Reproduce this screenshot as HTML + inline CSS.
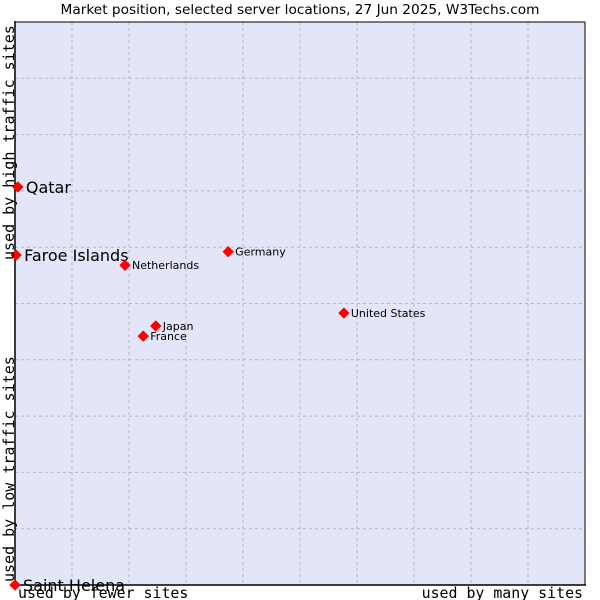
<!DOCTYPE html>
<html><head><meta charset="utf-8"><style>
body{margin:0;background:#fff;width:600px;height:600px;overflow:hidden}
svg{display:block}
</style></head><body>
<svg id="chart" width="600" height="600" font-family="'DejaVu Sans','Liberation Sans',sans-serif">
<text x="300" y="14" text-anchor="middle" font-size="13.7" fill="#000">Market position, selected server locations, 27 Jun 2025, W3Techs.com</text>
<rect x="15" y="22" width="570" height="563" fill="#e3e5f8"/>
<g id="grid"></g>
<line x1="15" y1="21" x2="15" y2="585" stroke="#000" stroke-width="1.5"/>
<line x1="15" y1="585" x2="586" y2="585" stroke="#000" stroke-width="1.5"/>
<line x1="15" y1="22" x2="585" y2="22" stroke="#000" stroke-width="1"/>
<line x1="585" y1="22" x2="585" y2="585" stroke="#000" stroke-width="1"/>
<g id="points"></g>
<text x="18" y="598" font-family="'DejaVu Sans Mono','Liberation Mono',monospace" font-size="14.9">used by fewer sites</text>
<text x="583" y="598" text-anchor="end" font-family="'DejaVu Sans Mono','Liberation Mono',monospace" font-size="14.9">used by many sites</text>
<text transform="translate(14,582) rotate(-90)" font-family="'DejaVu Sans Mono','Liberation Mono',monospace" font-size="15">used by low traffic sites</text>
<text transform="translate(14,260) rotate(-90)" font-family="'DejaVu Sans Mono','Liberation Mono',monospace" font-size="15">used by high traffic sites</text>
</svg>
<script>
const countries=["Qatar","Faroe Islands","Saint Helena","Netherlands","Germany","United States","Japan","France"];
const xValues=[0.5,0.2,0,19.3,37.4,57.7,24.7,22.5];
const yValues=[70.7,58.6,0,56.8,59.2,48.3,46.0,44.2];
const bigLabel=[true,true,true,false,false,false,false,false];
const NS="http://www.w3.org/2000/svg";
const X0=15,X1=585,Y0=585,Y1=22;
function sx(v){return X0+(X1-X0)*v/100;}
function sy(v){return Y0-(Y0-Y1)*v/100;}
const grid=document.getElementById('grid');
for(let i=1;i<10;i++){
  const v=document.createElementNS(NS,'line');
  v.setAttribute('x1',sx(i*10));v.setAttribute('x2',sx(i*10));v.setAttribute('y1',Y1);v.setAttribute('y2',Y0);
  v.setAttribute('stroke','#b8b8b8');v.setAttribute('stroke-dasharray','3,3');
  
  
  grid.appendChild(v);
  const h=document.createElementNS(NS,'line');
  h.setAttribute('y1',sy(i*10));h.setAttribute('y2',sy(i*10));h.setAttribute('x1',X0);h.setAttribute('x2',X1);
  h.setAttribute('stroke','#b8b8b8');h.setAttribute('stroke-dasharray','3,3');
  
  
  grid.appendChild(h);
}
const pts=document.getElementById('points');
countries.forEach((c,i)=>{
  const x=sx(xValues[i]),y=sy(yValues[i]);
  const d=document.createElementNS(NS,'path');
  d.setAttribute('d',`M${x} ${y-5}L${x+5} ${y}L${x} ${y+5}L${x-5} ${y}Z`);
  d.setAttribute('fill','#f00');
  d.setAttribute('stroke','#f00');
  d.setAttribute('stroke-width','1');
  d.setAttribute('stroke-linejoin','round');
  
  
  pts.appendChild(d);
  const t=document.createElementNS(NS,'text');
  t.setAttribute('x',x+(bigLabel[i]?8:7));
  t.setAttribute('y',y+(bigLabel[i]?6:4));
  t.setAttribute('font-size',bigLabel[i]?16:11);
  t.textContent=c;
  
  
  pts.appendChild(t);
});
</script>
</body></html>
